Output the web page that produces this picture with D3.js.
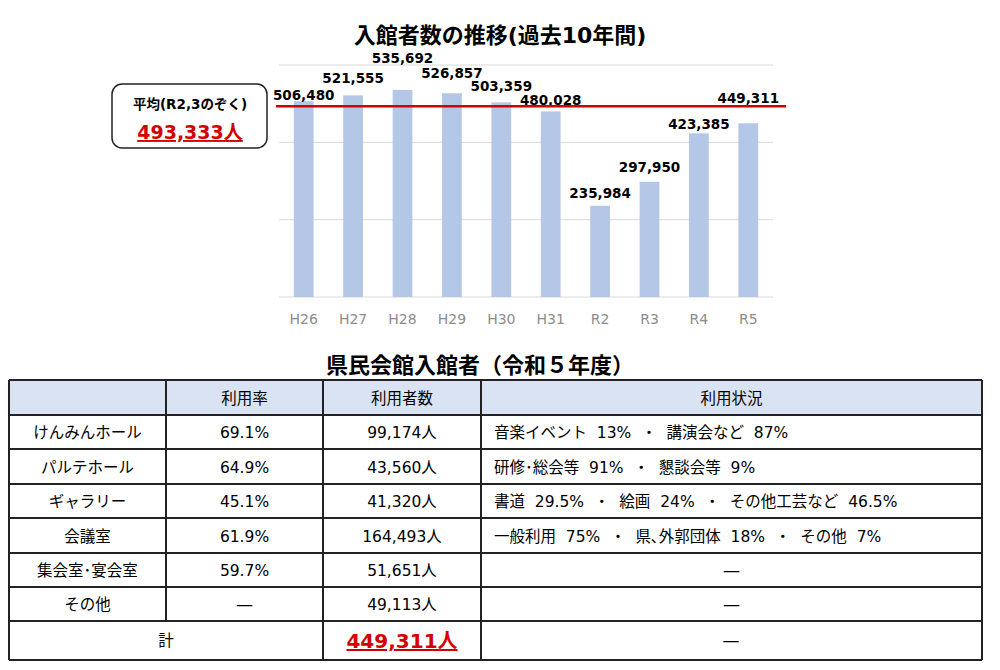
<!DOCTYPE html><html><head><meta charset="utf-8"><script src="https://d3js.org/d3.v7.min.js"></script>
<style>body{margin:0;background:#fff;font-family:"DejaVu Sans","Noto Sans CJK JP",sans-serif}svg text{font-family:"DejaVu Sans","Noto Sans CJK JP",sans-serif}</style></head><body><svg id="c" width="1000" height="670"></svg>
<script>
const years=["H26","H27","H28","H29","H30","H31","R2","R3","R4","R5"];
const visitors=[506480,521555,535692,526857,503359,480028,235984,297950,423385,449311];
const labelRaise=[6,17,32,20,16,11,13,15,9,25];
const average=493333;
const yTicks=[0,200000,400000,600000];
const tableHeader=["","利用率","利用者数","利用状況"];
const facilities=["けんみんホール","パルテホール","ギャラリー","会議室","集会室･宴会室","その他"];
const rates=["69.1%","64.9%","45.1%","61.9%","59.7%","―"];
const users=["99,174人","43,560人","41,320人","164,493人","51,651人","49,113人"];
const usage=["音楽イベント  13%  ・  講演会など  87%","研修･総会等  91%  ・  懇談会等  9%","書道  29.5%  ・  絵画  24%  ・  その他工芸など  46.5%","一般利用  75%  ・  県､外郭団体  18%  ・  その他  7%","―","―"];
const total="449,311人";

const svg=d3.select("#c");
const x=d3.scaleBand().domain(years).range([279,773]).paddingInner(0.6).paddingOuter(0.3);
const y=d3.scaleLinear().domain([0,600000]).range([297,65]);
svg.append("text").attr("x",500).attr("y",43).attr("text-anchor","middle").attr("font-size",22).attr("font-weight","bold").text("入館者数の推移(過去10年間)");
svg.selectAll(".g").data(yTicks).enter().append("line").attr("x1",279).attr("x2",773).attr("y1",d=>y(d)).attr("y2",d=>y(d)).attr("stroke","#d9d9d9");
svg.selectAll(".b").data(visitors).enter().append("rect").attr("x",(d,i)=>x(years[i])).attr("width",x.bandwidth()).attr("y",d=>y(d)).attr("height",d=>297-y(d)).attr("fill","#b4c7e7");
svg.selectAll(".l").data(visitors).enter().append("text").attr("x",(d,i)=>x(years[i])+x.bandwidth()/2).attr("y",(d,i)=>y(d)-labelRaise[i]+5).attr("text-anchor","middle").attr("font-size",13.5).attr("font-weight","bold").text(d=>d3.format(",")(d));
svg.selectAll(".xt").data(years).enter().append("text").attr("x",d=>x(d)+x.bandwidth()/2).attr("y",324).attr("text-anchor","middle").attr("font-size",14).attr("fill","#8c8c8c").text(d=>d);
svg.append("line").attr("x1",276).attr("x2",786).attr("y1",y(average)).attr("y2",y(average)).attr("stroke","#d40000").attr("stroke-width",2.5);
svg.append("rect").attr("x",112).attr("y",84).attr("width",155).attr("height",64).attr("rx",10).attr("fill","#fff").attr("stroke","#222").attr("stroke-width",1.5);
svg.append("text").attr("x",190).attr("y",109).attr("text-anchor","middle").attr("font-size",13.5).attr("font-weight","bold").text("平均(R2,3のぞく)");
svg.append("text").attr("x",190).attr("y",139).attr("text-anchor","middle").attr("font-size",19).attr("font-weight","bold").attr("fill","#d40000").attr("text-decoration","underline").text(d3.format(",")(average)+"人");

svg.append("text").attr("x",480).attr("y",373).attr("text-anchor","middle").attr("font-size",22).attr("font-weight","bold").text("県民会館入館者（令和５年度）");
const cols=[9,166,323,481,982];
const rowsY=[380,415,449,484,518,553,587,621,660];
const t=svg.append("g");
t.append("rect").attr("x",9).attr("y",380).attr("width",973).attr("height",35).attr("fill","#dae3f3");
for(let c=0;c<4;c++) t.append("text").attr("x",(cols[c]+cols[c+1])/2).attr("y",404).attr("text-anchor","middle").attr("font-size",15.5).text(tableHeader[c]);
facilities.forEach((f,i)=>{
  const cy=(rowsY[i+1]+rowsY[i+2])/2+6;
  t.append("text").attr("x",(cols[0]+cols[1])/2).attr("y",cy).attr("text-anchor","middle").attr("font-size",15.5).text(f);
  t.append("text").attr("x",(cols[1]+cols[2])/2).attr("y",cy).attr("text-anchor","middle").attr("font-size",15.5).text(rates[i]);
  t.append("text").attr("x",(cols[2]+cols[3])/2).attr("y",cy).attr("text-anchor","middle").attr("font-size",15.5).text(users[i]);
  const u=usage[i];
  t.append("text").attr("x",u==="―"?(cols[3]+cols[4])/2:494).attr("y",cy).attr("text-anchor",u==="―"?"middle":"start").attr("font-size",15.5).attr("xml:space","preserve").text(u);
});
t.append("text").attr("x",166).attr("y",646).attr("text-anchor","middle").attr("font-size",15.5).text("計");
t.append("text").attr("x",402).attr("y",648).attr("text-anchor","middle").attr("font-size",20).attr("font-weight","bold").attr("fill","#d40000").attr("text-decoration","underline").text(total);
t.append("text").attr("x",731).attr("y",646).attr("text-anchor","middle").attr("font-size",15.5).text("―");
rowsY.forEach(v=>t.append("line").attr("x1",9).attr("x2",982).attr("y1",v).attr("y2",v).attr("stroke","#222").attr("stroke-width",2));
cols.forEach((c,i)=>t.append("line").attr("x1",c).attr("x2",c).attr("y1",380).attr("y2",i===1?621:660).attr("stroke","#222").attr("stroke-width",2));
</script></body></html>
